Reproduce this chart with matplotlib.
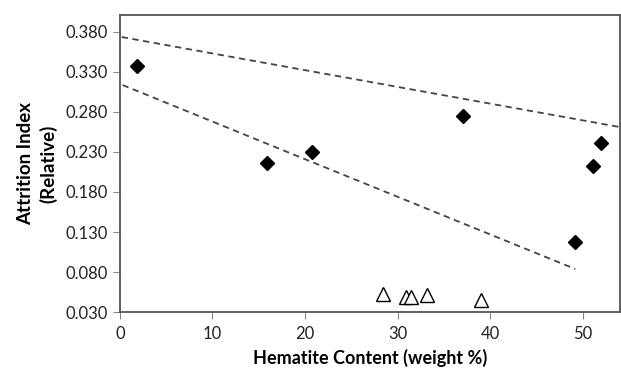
import numpy as np
import matplotlib.pyplot as plt

plt.rcParams['font.family'] = ['Lato', 'DejaVu Sans']

# diamonds (filled)
hem_x = [1.8, 15.9, 20.8, 37.1, 49.2, 51.1, 52.0]
att_y = [0.338, 0.216, 0.230, 0.275, 0.117, 0.212, 0.241]

# triangles (open)
tri_x = [28.4, 30.9, 31.5, 33.2, 39.0]
tri_y = [0.0525, 0.049, 0.049, 0.051, 0.045]

# trendlines: intercept, slope, x range
upper_fit = (0.374, -0.00209, 0.2, 54.0)
lower_fit = (0.315, -0.0047, 0.3, 49.2)

fig = plt.figure(figsize=(6.21, 3.68), dpi=100)
ax = fig.add_axes([0.193, 0.152, 0.805, 0.807])

for b, m, x0, x1 in [upper_fit, lower_fit]:
    xs = np.array([x0, x1])
    ax.plot(xs, b + m * xs, ls=(0, (3.5, 2.5)), color='#444444', lw=1.3)

ax.plot(hem_x, att_y, 'D', color='black', markersize=7.5, ls='none')
ax.plot(tri_x, tri_y, '^', mfc='white', mec='black', mew=1.0, markersize=10, ls='none')

ax.set_xlim(0, 54)
ax.set_ylim(0.030, 0.401)
ax.set_xticks([0, 10, 20, 30, 40, 50])
ax.set_yticks(np.arange(0.030, 0.381, 0.05))
ax.set_yticklabels(['%.3f' % v for v in np.arange(0.030, 0.381, 0.05)])
ax.tick_params(direction='out', length=5, color='#888888', labelsize=12, labelcolor='#222222')
ax.tick_params(axis='x', pad=5)
for s in ax.spines.values():
    s.set_color('#555555')
    s.set_linewidth(1.3)

ax.set_xlabel('Hematite Content (weight %)', fontsize=13, fontweight='bold', labelpad=5)
ax.set_ylabel('Attrition Index\n(Relative)', fontsize=13.5, fontweight='bold', labelpad=6,
              linespacing=1.35)

fig.savefig('out.png', dpi=100)
